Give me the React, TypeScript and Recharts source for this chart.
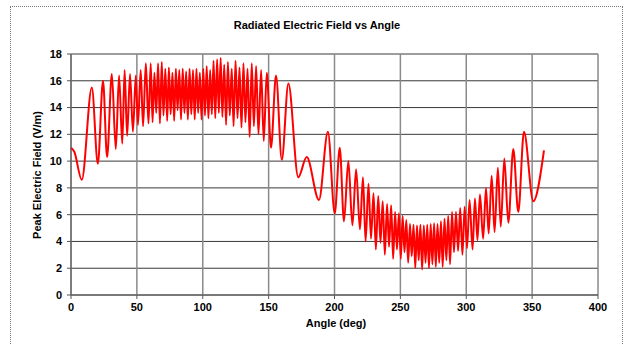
import React from 'react';
import { LineChart, Line, XAxis, YAxis, CartesianGrid } from 'recharts';

// tick labels
const xTicks = [0, 50, 100, 150, 200, 250, 300, 350, 400];
const yTicks = [0, 2, 4, 6, 8, 10, 12, 14, 16, 18];

// [angle deg, peak field V/m], peaks and troughs in order
const rise: [number, number][] = [
  [0, 11.0], [2.5, 10.7], [8.2, 8.6], [15.8, 15.5], [20.4, 9.8], [24.3, 16.0], [27.4, 10.3],
  [31.0, 16.5], [34.0, 10.9], [36.5, 16.4], [38.9, 11.3], [40.7, 16.8], [42.6, 11.9],
  [44.8, 16.5], [47.0, 12.2], [49.2, 16.4], [50.8, 12.7], [52.9, 16.8], [54.7, 12.6],
  [56.8, 17.3], [58.8, 12.8],
];

const plateau: [number, number][] = [
  [60.5, 17.3], [61.9, 12.9], [63.3, 16.6], [64.7, 13.6], [66.1, 17.3], [67.5, 12.8],
  [68.9, 17.4], [70.2, 13.4], [71.6, 16.9], [73.0, 13.0], [74.3, 17.0], [75.6, 13.5],
  [77.0, 16.6], [78.3, 13.0], [79.6, 16.9], [80.9, 13.8], [82.2, 16.8], [83.5, 13.1],
  [84.8, 16.9], [86.1, 13.6], [87.4, 16.7], [88.7, 13.1], [90.0, 16.9], [91.3, 13.5],
  [92.6, 16.8], [93.9, 13.1], [95.2, 16.9], [96.5, 13.6], [97.8, 16.6], [99.1, 13.1],
  [100.4, 16.9], [101.7, 13.4], [103.0, 17.1], [104.3, 13.2], [105.6, 16.8], [106.9, 13.5],
  [108.2, 17.5], [109.5, 13.2], [110.9, 17.6], [112.2, 13.6], [113.6, 17.7], [114.9, 13.3],
  [116.3, 17.2], [117.7, 12.7], [119.1, 17.4], [120.5, 13.4], [122.0, 16.9], [123.4, 12.6],
  [124.9, 17.5], [126.4, 13.2], [127.9, 17.0], [129.4, 12.5], [130.9, 17.3], [132.4, 12.9],
  [134.0, 16.9], [135.6, 11.8], [137.2, 17.3], [138.8, 12.6], [140.5, 17.1], [142.3, 12.0],
  [144.3, 16.8], [146.3, 11.5], [148.6, 16.6],
];

const fall: [number, number][] = [
  [151.8, 11.0], [155.6, 16.4], [160.0, 10.1], [165.0, 15.8], [172.5, 8.8], [178.9, 10.3],
  [188.2, 7.1], [195.0, 12.2], [200.2, 6.1], [204.0, 11.0], [207.2, 5.5], [210.5, 10.0],
  [213.6, 5.2], [216.4, 9.4], [219.3, 4.9], [221.6, 8.8], [223.6, 4.0],
];

const valley: [number, number][] = [
  [225.8, 8.3], [227.7, 4.2], [229.6, 7.6], [231.4, 3.4], [233.2, 7.4], [234.9, 3.9],
  [236.6, 7.0], [238.2, 3.0], [239.9, 6.8], [241.4, 3.6], [243.0, 6.7], [244.5, 2.7],
  [246.0, 6.2], [247.4, 3.4], [248.9, 6.1], [250.3, 2.7], [251.7, 5.9], [253.1, 3.2],
  [254.5, 5.6], [255.9, 2.4], [257.3, 5.3], [258.6, 2.9], [260.0, 5.25], [261.3, 2.0],
  [262.6, 5.2], [263.9, 2.6], [265.2, 5.25], [266.5, 1.9], [267.8, 5.2], [269.1, 2.4],
  [270.4, 5.25], [271.7, 2.0], [273.0, 5.3], [274.3, 2.3], [275.6, 5.35], [276.9, 2.1],
  [278.2, 5.3], [279.5, 2.4], [280.8, 5.5], [282.1, 2.1], [283.5, 5.7], [284.9, 2.6],
  [286.3, 5.9], [287.7, 2.3], [289.2, 6.2], [290.7, 3.2], [292.2, 6.2], [293.8, 3.3],
  [295.4, 6.5], [297.1, 3.0], [298.8, 6.6], [300.6, 3.5], [302.5, 7.1],
];

const recover: [number, number][] = [
  [304.8, 3.4], [306.6, 7.2], [308.5, 4.1], [310.4, 7.5], [312.8, 4.2], [315.0, 8.0],
  [317.0, 4.6], [319.3, 8.9], [321.5, 4.7], [324.0, 9.5], [326.2, 5.1], [328.9, 10.2],
  [331.9, 5.4], [335.7, 10.9], [339.5, 6.2], [343.8, 12.2], [350.9, 7.0], [359.0, 10.8],
];

const points = [...rise, ...plateau, ...fall, ...valley, ...recover].map(([angle, field]) => ({ angle, field }));

const font = '"Liberation Sans", Arial, sans-serif';
const tickStyle = { fontSize: 11, fontWeight: 700, fill: '#000', fontFamily: font };

export default function App() {
  return (
    <div style={{ position: 'fixed', left: 0, top: 0, width: 628, height: 344, background: '#fff', overflow: 'hidden', fontFamily: font }}>
      {/* dotted chart frame, bottom edge runs off the page */}
      <div style={{ position: 'absolute', left: 10, top: 6, width: 611, height: 360, border: '1px dotted #777' }} />
      <div style={{ position: 'absolute', left: 117, width: 400, top: 19, textAlign: 'center', fontSize: 11, fontWeight: 700 }}>
        Radiated Electric Field vs Angle
      </div>
      <LineChart width={628} height={344} data={points} margin={{ top: 54, right: 30, bottom: 0, left: 0 }} style={{ position: 'absolute', left: 0, top: 0 }}>
        <CartesianGrid vertical={false} stroke="#3a3a3a" strokeWidth={1} />
        <CartesianGrid horizontal={false} stroke="#8a8a8a" strokeWidth={1.5} />
        <XAxis dataKey="angle" type="number" domain={[0, 400]} ticks={xTicks} interval={0} height={49}
          tick={tickStyle} tickSize={4} tickMargin={4} axisLine={{ stroke: '#555' }} tickLine={{ stroke: '#555' }} />
        <YAxis type="number" domain={[0, 18]} ticks={yTicks} interval={0} width={71}
          tick={tickStyle} tickSize={4} tickMargin={5} axisLine={{ stroke: '#555' }} tickLine={{ stroke: '#555' }} />
        <Line type="monotone" dataKey="field" stroke="#ff0000" strokeWidth={2} dot={false} isAnimationActive={false} />
      </LineChart>
      <div style={{ position: 'absolute', left: 37, top: 175, transform: 'translate(-50%, -50%) rotate(-90deg)', whiteSpace: 'nowrap', fontSize: 11, fontWeight: 700 }}>
        Peak Electric Field (V/m)
      </div>
      <div style={{ position: 'absolute', left: 336, top: 323, transform: 'translate(-50%, -50%)', whiteSpace: 'nowrap', fontSize: 11, fontWeight: 700 }}>
        Angle (deg)
      </div>
    </div>
  );
}
